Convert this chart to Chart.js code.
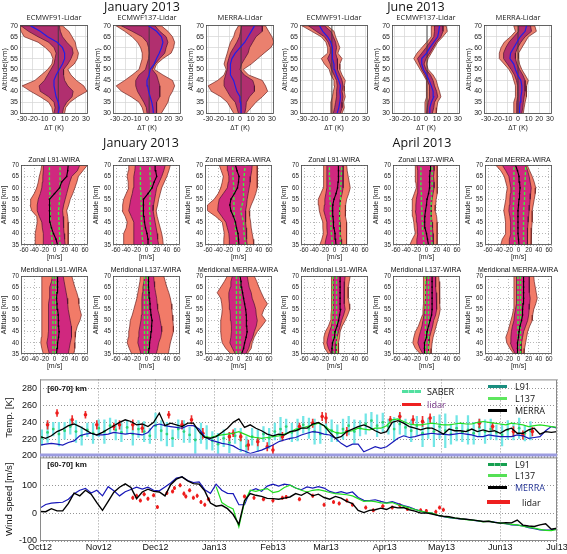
<!DOCTYPE html>
<html>
<head>
<meta charset="utf-8">
<script src="https://cdn.jsdelivr.net/npm/chart.js@4.4.1/dist/chart.umd.min.js"></script>
<style>
  html, body { margin: 0; padding: 0; background: #fff; width: 567px; height: 554px; overflow: hidden; position: relative; font-family: "Liberation Sans", Arial, sans-serif; }
  canvas { position: absolute; }
  .t { position: absolute; white-space: nowrap; transform: translate(-50%, -50%); color: #111; line-height: 1; }
  .l { position: absolute; white-space: nowrap; transform: translate(0, -50%); color: #111; line-height: 1; font-family: "Open Sans", sans-serif; font-size: 9px; }
</style>
</head>
<body>
<script>
// ---------- temperature difference profiles (top row), K ----------
const T_ALT = [30, 32.5, 35, 37.5, 40, 42.5, 45, 47.5, 50, 52.5, 55, 57.5, 60, 62.5, 65, 67.5, 70];
const T_TITLES = ['ECMWF91-Lidar', 'ECMWF137-Lidar', 'MERRA-Lidar', 'ECMWF91-Lidar', 'ECMWF137-Lidar', 'MERRA-Lidar'];
const T_XTICKS = [-30, -20, -10, 0, 10, 20, 30];
const T_YTICKS = [30, 35, 40, 45, 50, 55, 60, 65, 70];
const T_OUT_L = [
  [-1, -2, -5, -13, -22, -30, -18, -12, -6, -2, -1, -3, -8, -15, -28, -31, -33],
  [-3, -4.5, -7.5, -15, -24, -29, -21, -14, -7.5, -6, -4.5, -4.5, -6, -9, -14, -21, -29],
  [-6, -9, -12, -18, -27, -30, -21, -15, -13, -15, -13.6, -12, -10.6, -9, -6, -4.5, -1.5],
  [-3, -3, -3, -1.5, -0.6, 0.6, 0, -3, -4.5, -9, -12, -6, -6, -7.6, -12, -21, -30],
  [-1, -1, -1, 0.6, 0.6, 0.6, 0, -2.4, -5.5, -8.5, -11.5, -8.5, -4, 0.6, 5, 5, 5],
  [-4, -4, -4, -2.4, -2.4, -2.4, -4, -5.5, -8.5, -13, -17.6, -17.6, -16, -13, -7, -2.4, -4]
];
const T_IN_L = [
  [0, 1, 0, -5, -13, -14, -9, -6, -3, 0, 1, 2, 0, -5, -15, -24, -31],
  [0, -0.6, -3, -6, -9, -10.6, -10.6, -7.5, -1.5, 0, 1.5, 2, 1.5, 0, -4.5, -14, -24],
  [-1.5, -3, -4.5, -9, -12, -15, -15, -13.6, -12, -12, -10.6, -9, -6, -3, -0.6, 0.6, 1.5],
  [-0.6, 0.6, 1.5, 2.4, 2.4, 3, 2.4, 0, -2.4, -3.6, -6, -3.6, -3.6, -5.5, -9, -16.7, -24],
  [0.6, 1.2, 2, 3.6, 3.6, 3, 1.2, -1, -4, -6, -8, -4, 0, 3.6, 7.3, 8, 8],
  [-1.5, -1.5, -1, -0.3, -0.3, -0.3, -1.5, -3.3, -6.4, -10, -13.6, -13.6, -11.5, -8.5, -4, 0.6, 0.6]
];
const T_MEAN = [
  [4, 5, 4, 2, 1, 0, 0, 2, 5, 8, 10, 10, 8, 3, -6, -13, -22],
  [6, 5.5, 4.5, 3, 1.5, 0.6, 0, 2, 3, 6.7, 9, 11.5, 13.6, 15, 13.6, 9, 1.5],
  [1.5, 1, 0.6, 0, -3, -4.5, -6, -9, -9, -9, -7.6, -4.5, 0, 4.5, 7.6, 10.6, 13.6],
  [3, 4.5, 5.5, 6, 5.5, 6, 4.5, 2.4, 0.6, 0, -1.5, -1.5, -1.5, -3, -6, -10.6, -13.6],
  [3, 3.6, 5, 7.3, 6.7, 5, 3, 0.6, -2.4, -4, -4, 0.6, 3.6, 7.3, 11, 12, 12.7],
  [1.5, 1.5, 2, 2.7, 3.6, 3.6, 2.7, -0.3, -2.4, -4, -7.6, -7, -4, -1, 2, 6.7, 8]
];
const T_IN_R = [
  [8, 9, 12, 17, 18, 13, 10, 9, 9, 13, 16, 18, 17, 12, 8, 6, 5],
  [9, 9, 9, 12, 12, 12, 10.6, 9, 5, 7.5, 12, 16.7, 18, 19.7, 18, 12, 7.5],
  [4.5, 5.5, 6, 9, 13.6, 13.6, 12, 4, 0, 1.5, 4.5, 7.6, 9, 12, 15, 21, 21],
  [6, 7.6, 7.6, 8.5, 7.6, 8.5, 7.6, 5.5, 3.6, 3, 3, 1.5, 2.4, 1.5, -0.6, -3, -9],
  [6, 7.3, 8, 11, 10, 8, 6.7, 4.2, 0, -1.8, 0, 3.6, 6.7, 9.7, 14, 16, 16],
  [3.6, 4.5, 5, 5.8, 6.7, 6.7, 6.7, 4.5, 1.5, -1, -2.4, -2.4, -0.3, 2.7, 6.7, 12.7, 11.8]
];
const T_OUT_R = [
  [10, 11, 15, 22, 31, 28, 21, 16, 13, 19, 22, 23, 21, 20, 17, 14, 8],
  [13.6, 16.7, 19.7, 21, 24, 26, 24, 15, 7, 9, 15, 22.7, 25, 26, 24, 19.7, 13.6],
  [6, 10.6, 15, 21, 26, 24, 21, 8, 3, 10.6, 16.7, 22.7, 29, 32, 30, 27, 24],
  [7.6, 9.7, 9, 10.6, 9.7, 9.7, 10.6, 7.6, 5.5, 5.5, 7.6, 3.6, 5.5, 3.6, 1.5, 0, -6],
  [9.7, 10.3, 11, 14, 12.7, 11, 9.7, 6.7, 2, 0.6, 2, 5, 8, 11, 15.8, 20, 19],
  [5, 5.8, 6.7, 7.6, 8.2, 8.2, 9.7, 6.7, 3.6, 1.5, 0.6, 0.6, 3.6, 6.7, 9.7, 17.3, 15.8]
];
const T_REF = [4, 2, 1, -2, 1, 0];

// ---------- wind profiles (zonal row then meridional row), m/s ----------
const W_ALT = [35, 37.5, 40, 42.5, 45, 47.5, 50, 52.5, 55, 57.5, 60, 62.5, 65, 67.5, 70];
const W_TITLES = ['Zonal L91-WIRA', 'Zonal L137-WIRA', 'Zonal MERRA-WIRA', 'Zonal L91-WIRA', 'Zonal L137-WIRA', 'Zonal MERRA-WIRA',
  'Meridional L91-WIRA', 'Meridional L137-WIRA', 'Meridional MERRA-WIRA', 'Meridional L91-WIRA', 'Meridional L137-WIRA', 'Meridional MERRA-WIRA'];
const W_XTICKS = [-60, -40, -20, 0, 20, 40, 60];
const W_YTICKS = [35, 40, 45, 50, 55, 60, 65, 70];
const W_OUT_L = [
  [-38, -38, -38, -36, -34, -35, -45, -48, -47, -40, -35, -32, -30, -27, -25],
  [-46, -45, -45, -40, -38, -42, -48, -47, -45, -40, -35, -36, -38, -36, -35],
  [-29, -29, -28, -30, -32, -45, -61, -61, -48, -40, -35, -32, -30, -34, -38],
  [-29, -25, -22, -23, -23, -27, -30, -31, -32, -27, -22, -21, -21, -22, -22],
  [-33, -28, -22, -24, -25, -27, -28, -28, -28, -24, -20, -21, -22, -22, -22],
  [-35, -32, -25, -26, -25, -27, -29, -27, -25, -24, -22, -25, -28, -35, -45],
  [-22, -25, -27, -26, -25, -25, -25, -25, -25, -25, -25, -25, -25, -25, -25],
  [-29, -34, -38, -36, -35, -33, -32, -28, -25, -22, -19, -17, -15, -13, -12],
  [-15, -25, -32, -34, -35, -35, -35, -33, -32, -33, -35, -42, -35, -28, -22],
  [-12, -19, -22, -21, -18, -12, -8, -7, -6, -6, -6, -6, -6, -6, -6],
  [-12, -22, -27, -25, -22, -16, -12, -8, -7, -6, -6, -6, -6, -6, -6],
  [-9, -17, -23, -25, -21, -18, -15, -12, -10, -9, -9, -9, -9, -9, -9]
];
const W_IN_L = [
  [-22, -22, -22, -24, -25, -30, -34, -34, -32, -28, -25, -24, -23, -22, -22],
  [-25, -25, -25, -25, -25, -30, -35, -33, -31, -28, -26, -25, -25, -23, -22],
  [-17, -18, -19, -22, -25, -33, -41, -40, -38, -30, -22, -20, -19, -21, -22],
  [-19, -17, -14, -15, -15, -18, -21, -20, -19, -17, -15, -15, -15, -15, -15],
  [-20, -19, -17, -18, -19, -20, -22, -21, -20, -18, -17, -17, -17, -18, -19],
  [-17, -18, -15, -16, -15, -17, -19, -18, -17, -16, -15, -17, -19, -25, -32],
  [-10, -13, -15, -13, -12, -12, -12, -12, -12, -11, -10, -10, -9, -6, -4],
  [-11, -14, -17, -16, -15, -13, -11, -10, -9, -9, -9, -8, -7, -5, -4],
  [-6, -12, -17, -15, -14, -14, -15, -16, -17, -18, -19, -19, -16, -15, -12],
  [-6, -12, -15, -13, -10, -6, -4, -3, -2, -2, -1, -2, -2, -2, -2],
  [-7, -13, -17, -15, -12, -9, -7, -5, -4, -3, -2, -2, -2, 0, 0],
  [-6, -12, -16, -15, -14, -12, -9, -8, -6, -4, -4, -4, -4, -4, -4]
];
const W_MEAN = [
  [6, 3, -2, -6, -9, -9, -10, -10, -10, 0, 10, 14, 24, 26, 27],
  [4, 3, 1, -2, -4, -5, -6, -6, -6, 3, 11, 15, 20, 18, 17],
  [1, 0, -1, -4, -6, -10, -15, -17, -15, -8, -2, 0, 1, -3, -6],
  [3, 2, 1, -1, -2, -3, -4, -3, -1, 3, 6, 7, 8, 8, 7],
  [4, 2, 0, -3, -4, -3, -2, 0, 1, 4, 6, 6, 6, 7, 8],
  [1, 0, -1, -1, -1, -1, -1, 0, 1, 2, 3, 2, 1, -2, -6],
  [4, 5, 6, 8, 9, 8, 8, 7, 6, 5, 4, 5, 6, 6, 6],
  [4, 5, 6, 8, 9, 10, 11, 9, 8, 7, 6, 5, 4, 4, 4],
  [6, 10, 12, 15, 17, 16, 16, 15, 14, 12, 10, 8, 6, 5, 3],
  [-5, -5, -4, 0, 1, 5, 8, 10, 12, 11, 11, 11, 11, 11, 11],
  [-4, -4, -4, 0, 1, 4, 7, 10, 11, 11, 11, 11, 11, 11, 11],
  [-2, -2, -2, 0, 1, 3, 6, 8, 8, 9, 10, 10, 10, 10, 10]
];
const W_IN_R = [
  [21, 20, 19, 18, 18, 17, 16, 18, 21, 24, 27, 30, 34, 45, 50],
  [24, 22, 21, 19, 17, 15, 13, 14, 16, 18, 20, 25, 30, 34, 37],
  [17, 16, 16, 15, 14, 14, 14, 16, 17, 19, 21, 23, 24, 26, 27],
  [14, 13, 12, 11, 11, 10, 10, 11, 12, 15, 17, 17, 17, 17, 17],
  [14, 13, 13, 12, 11, 10, 9, 10, 11, 13, 15, 15, 14, 15, 15],
  [18, 18, 17, 18, 19, 20, 21, 22, 23, 24, 25, 23, 21, 18, 14],
  [27, 29, 31, 33, 34, 33, 31, 29, 27, 26, 25, 23, 21, 19, 17],
  [19, 22, 24, 28, 30, 29, 27, 25, 22, 21, 20, 18, 16, 15, 14],
  [14, 20, 23, 28, 31, 35, 37, 35, 34, 31, 27, 25, 21, 19, 17],
  [3, 3, 3, 5, 8, 11, 14, 18, 21, 20, 19, 19, 19, 20, 21],
  [4, 4, 5, 6, 9, 12, 14, 18, 20, 20, 20, 19, 18, 18, 18],
  [5, 5, 6, 8, 10, 14, 18, 20, 21, 22, 23, 22, 21, 21, 21]
];
const W_OUT_R = [
  [27, 27, 27, 27, 27, 26, 24, 28, 31, 36, 40, 44, 47, 56, 65],
  [33, 32, 30, 27, 24, 21, 19, 22, 24, 27, 30, 35, 40, 44, 47],
  [30, 29, 27, 25, 24, 22, 21, 25, 30, 34, 37, 37, 37, 37, 37],
  [23, 24, 24, 24, 24, 22, 21, 22, 24, 28, 31, 29, 27, 25, 24],
  [21, 21, 21, 21, 21, 20, 17, 18, 19, 21, 22, 21, 21, 21, 21],
  [25, 25, 25, 26, 27, 27, 27, 29, 31, 33, 34, 31, 27, 22, 17],
  [38, 40, 40, 41, 42, 45, 50, 53, 50, 48, 47, 44, 40, 37, 34],
  [43, 45, 47, 50, 53, 53, 52, 51, 50, 49, 47, 44, 40, 37, 34],
  [17, 25, 27, 31, 37, 46, 54, 46, 50, 57, 50, 45, 40, 36, 31],
  [8, 8, 8, 10, 11, 15, 21, 26, 30, 29, 27, 27, 27, 29, 31],
  [9, 10, 11, 13, 16, 19, 22, 25, 27, 26, 26, 26, 26, 25, 24],
  [11, 12, 14, 16, 18, 22, 27, 28, 30, 34, 37, 35, 33, 31, 30]
];
const W_GREEN_L = [
  [-4, -5, -6, -7, -8, -8, -8, -9, -9, -9, -9, -10, -10, -10, -10],
  [-7, -8, -9, -9, -10, -10, -10, -10, -11, -11, -12, -12, -12, -12, -12],
  [-4, -4, -5, -6, -7, -8, -9, -9, -9, -9, -9, -10, -11, -11, -12],
  [-4, -5, -6, -7, -7, -8, -8, -8, -9, -9, -9, -9, -10, -10, -10],
  [-5, -6, -7, -8, -8, -9, -9, -10, -10, -10, -11, -11, -11, -11, -11],
  [-7, -8, -9, -9, -9, -10, -10, -10, -9, -9, -9, -9, -9, -9, -9],
  [-3, -3, -3, -3, -3, -3, -3, -3, -3, -3, -3, -3, -3, -3, -3],
  [-4, -4, -4, -4, -4, -4, -4, -4, -4, -4, -4, -4, -4, -4, -4],
  [-4, -4, -4, -4, -4, -4, -4, -4, -4, -4, -4, -4, -4, -4, -4],
  [-3, -3, -3, -3, -3, -3, -3, -3, -3, -3, -3, -3, -3, -3, -3],
  [-2, -2, -2, -2, -2, -2, -2, -2, -2, -2, -2, -2, -2, -2, -2],
  [-1, -1, -1, -1, -1, -1, -1, -1, -1, -1, -1, -1, -1, -1, -1]
];
const W_GREEN_R = [
  [11, 10, 10, 9, 9, 8, 8, 9, 10, 11, 11, 11, 11, 11, 11],
  [9, 9, 8, 8, 7, 7, 6, 6, 7, 7, 8, 8, 7, 7, 6],
  [14, 12, 11, 10, 10, 7, 4, 7, 10, 10, 10, 10, 11, 12, 14],
  [12, 11, 11, 10, 10, 10, 10, 11, 12, 12, 12, 13, 13, 14, 14],
  [11, 10, 9, 9, 9, 9, 9, 9, 10, 10, 11, 11, 11, 11, 11],
  [11, 10, 10, 10, 10, 10, 10, 11, 12, 12, 12, 13, 13, 14, 14],
  [2, 2, 2, 2, 2, 2, 2, 2, 2, 2, 2, 2, 2, 2, 2],
  [2, 2, 2, 2, 2, 2, 2, 2, 2, 2, 2, 2, 2, 2, 2],
  [3, 3, 3, 3, 3, 3, 3, 3, 3, 3, 3, 3, 3, 3, 3],
  [4, 4, 4, 4, 4, 4, 4, 4, 4, 4, 4, 4, 4, 4, 4],
  [4, 4, 4, 4, 4, 4, 4, 4, 4, 4, 4, 4, 4, 4, 4],
  [4, 4, 4, 4, 4, 4, 4, 4, 4, 4, 4, 4, 4, 4, 4]
];

// ---------- time series [60-70] km, days since 1 Oct 2012 ----------
const MONTH_DAYS = [0, 31, 61, 92, 123, 151, 182, 212, 243, 273];
const MONTH_LABELS = ['Oct12', 'Nov12', 'Dec12', 'Jan13', 'Feb13', 'Mar13', 'Apr13', 'May13', 'Jun13', 'Jul13'];
const TS_DAYS = [0, 3, 6, 9, 12, 15, 18, 21, 24, 27, 30, 33, 36, 39, 42, 45, 48, 51, 54, 57, 60, 63, 66, 69, 72, 75, 78, 81, 84, 87,
  90, 93, 96, 99, 102, 105, 108, 111, 114, 117, 120, 123, 126, 129, 132, 135, 138, 141, 144, 147, 150, 153, 156, 159, 162, 165, 168, 171, 174, 177,
  180, 183, 186, 189, 192, 195, 198, 201, 204, 207, 210, 213, 216, 219, 222, 225, 228, 231, 234, 237, 240, 243, 246, 249, 252, 255, 258, 261, 264, 267,
  270, 273];
const TEMP_L91 = [213, 214, 215, 214, 213, 216, 218, 224, 226, 227, 225, 225, 226, 228, 227, 226, 227, 226, 225, 228,
  236, 238, 236, 235, 234, 233, 236, 236, 232, 223, 219, 217, 215, 214, 212, 208, 206, 203, 205, 207,
  210, 213, 217, 219, 221, 222, 225, 227, 229, 228, 226, 225, 221, 215, 211, 214, 214, 205, 208, 211,
  209, 211, 216, 221, 224, 222, 223, 225, 226, 227, 226, 226, 225, 226, 227, 226, 225, 223, 223, 225,
  224, 223, 223, 223, 225, 224, 221, 222, 223, 230, 235, 233];
const TEMP_L137 = [null, null, null, null, null, null, null, null, null, null, null, null, null, null, null, null, null, null, null, null,
  null, null, null, null, null, null, null, null, null, 223, 222, 224, 225, 226, 227, 229, 226, 223, 222, 221,
  222, 223, 224, 226, 228, 232, 233, 235, 237, 239, 236, 231, 228, 227, 229, 230, 233, 232, 231, 233,
  233, 236, 243, 244, 241, 238, 237, 237, 238, 239, 238, 237, 237, 238, 239, 238, 238, 240, 241, 240,
  239, 238, 237, 239, 238, 237, 235, 236, 237, 236, 235, 234];
const TEMP_MERRA = [223, 221, 224, 229, 232, 236, 238, 235, 231, 227, 225, 228, 232, 236, 240, 243, 241, 237, 238, 235,
  240, 251, 236, 239, 237, 235, 239, 239, 229, 222, 221, 223, 228, 233, 240, 244, 234, 237, 233, 230,
  226, 224, 226, 225, 229, 230, 233, 233, 238, 240, 236, 228, 221, 223, 229, 232, 235, 237, 234, 230,
  227, 229, 240, 242, 239, 235, 233, 231, 233, 233, 230, 226, 232, 230, 230, 229, 232, 229, 231, 229,
  230, 227, 231, 233, 227, 227, 231, 233, 226, 229, 228, 229];
const WIND_L91 = [18, 31, 36, 38, 39, 50, 70, 82, 89, 72, 82, 62, 95, 80, 62, 77, 85, 93, 86, 93,
  82, 80, 94, 108, 126, 130, 117, 110, 112, 84, 71, 104, 82, 71, 70, 30, 30, 80, 88, 78,
  97, 104, 97, 104, 101, 90, 84, 94, 90, 95, 90, 78, 72, 77, 71, 76, 56, 46, 45, 48,
  42, 37, 41, 34, 27, 22, 14, 7, 2, 0, -8, -13, -16, -19, -21, -22, -25, -28, -30, -30,
  -32, -36, -38, -42, -43, -46, -52, -56, -60, -61, -60, -55];
const WIND_L137 = [null, null, null, null, null, null, null, null, null, null, null, null, null, null, null, null, null, null, null, null,
  null, null, null, null, null, null, null, null, null, null, null, 95, 38, 25, 15, -50, 40, 82, 78, 84,
  88, 74, 78, 92, 100, 90, 82, 76, 82, 84, 80, 74, 70, 68, 66, 62, 52, 42, 44, 41,
  37, 36, 38, 30, 25, 19, 13, 7, 3, 0, -7, -12, -15, -18, -20, -23, -25, -27, -31, -29,
  -33, -35, -38, -40, -42, -47, -50, -54, -58, -62, -63, -58];
const WIND_MERRA = [6, 5, 16, 8, 8, 35, 72, 62, 82, 68, 38, 10, 42, 75, 93, 105, 92, 52, 76, 86,
  78, 76, 62, 102, 122, 130, 116, 106, 104, 80, 36, 25, 28, 16, -5, -40, 45, 70, 64, 60,
  53, 52, 50, 54, 58, 70, 64, 75, 62, 68, 56, 50, 60, 54, 42, 34, 10, 2, 10, 12,
  18, 13, 23, 19, 20, 12, 7, 0, 1, -3, -8, -11, -13, -17, -20, -22, -24, -27, -30, -29,
  -33, -36, -34, -35, -25, -43, -46, -48, -42, -38, -58, -54];
const SABER_DAYS = [1, 4, 7, 10, 13, 16, 19, 22, 25, 28, 31, 34, 37, 40, 43, 46, 49, 52, 55, 58, 61, 64, 67, 70, 73, 76, 79, 82, 85, 88,
  91, 94, 97, 100, 103, 106, 109, 112, 115, 118, 121, 124, 127, 130, 133, 136, 139, 142, 145, 148, 151, 154, 157, 160, 163, 166, 169, 172, 175, 178,
  181, 184, 187, 190, 193, 196, 199, 202, 205, 208, 211, 214, 217, 220, 223, 226, 229, 232, 235, 238, 241, 244, 247, 250, 253, 256, 259];
const SABER_TEMP = [222, 228, 232, 226, 230, 235, 229, 224, 231, 227, 233, 229, 236, 231, 228, 234, 226, 232, 229, 224,
  236, 230, 226, 221, 232, 229, 225, 219, 227, 222, 218, 214, 221, 216, 224, 219, 212, 223, 218, 226,
  221, 229, 232, 235, 228, 231, 237, 233, 229, 226, 234, 230, 227, 232, 236, 229, 233, 238, 242, 236,
  240, 235, 232, 238, 234, 230, 236, 227, 233, 229, 235, 230, 226, 233, 228, 231, 227, 234, 229, 232,
  228, 225, 231, 229, 233, 227, 230];
const SABER_ERR = [9, 12, 8, 14, 10, 9, 13, 11, 8, 12, 10, 14, 9, 12, 11, 8, 13, 10, 12, 9,
  15, 12, 14, 10, 11, 13, 9, 16, 12, 14, 11, 13, 10, 12, 9, 14, 11, 10, 13, 9,
  12, 10, 14, 9, 11, 13, 10, 12, 15, 11, 9, 13, 10, 12, 11, 14, 9, 12, 10, 13,
  11, 9, 14, 12, 10, 13, 11, 16, 12, 18, 14, 20, 12, 15, 11, 17, 13, 10, 14, 12,
  9, 13, 11, 10, 12, 9, 11];
const LIDAR_T_DAYS = [4, 9, 17, 24, 30, 39, 42, 49, 54, 68, 75, 80, 86, 100, 102, 106, 110, 115, 120, 123,
  128, 137, 144, 149, 151, 162, 185, 190, 197, 202, 206, 232, 239, 250, 255, 260];
const LIDAR_T_VALS = [237, 251, 243, 249, 237, 235, 237, 237, 233, 249, 237, 243, 227, 223, 227, 223, 213, 217, 211, 207,
  223, 235, 239, 247, 245, 229, 243, 247, 243, 241, 245, 239, 235, 229, 225, 229];
const LIDAR_T_ERR = [5, 4, 5, 4, 5, 4, 5, 6, 5, 4, 5, 5, 6, 5, 4, 5, 6, 5, 5, 6,
  5, 4, 5, 5, 6, 5, 4, 5, 5, 6, 5, 5, 4, 6, 5, 5];
const LIDAR_W_DAYS = [49, 51, 53, 55, 57, 60, 62, 67, 70, 71, 74, 76, 77, 79, 81, 83, 85, 87, 89, 108,
  113, 118, 123, 128, 130, 137, 144, 150, 155, 158, 162, 165, 172, 176, 181, 186, 190, 194, 201, 204,
  209, 211, 213];
const LIDAR_W_VALS = [55, 62, 45, 68, 52, 64, 22, 72, 78, 90, 100, 70, 60, 82, 55, 62, 40, 30, 50, 60,
  55, 50, 45, 55, 58, 50, 62, 30, 40, 35, 45, 30, 20, 10, 25, 20, 28, 15, 10, 8,
  5, 20, 12];

// ---------- helpers ----------
Chart.defaults.animation = false;
Chart.defaults.responsive = false;
Chart.defaults.devicePixelRatio = 1;
Chart.defaults.events = [];
Chart.defaults.plugins.legend.display = false;
Chart.defaults.plugins.tooltip.enabled = false;
Chart.defaults.elements.point.radius = 0;
Chart.defaults.elements.line.tension = 0;
Chart.defaults.font.family = '"Liberation Sans", Arial, sans-serif';
Chart.defaults.color = '#222';

const SANS = '"Liberation Sans", Arial, sans-serif';
const sf = (size, weight) => ({ family: SANS, size, weight: weight || 'normal' });

const FRAME = {
  id: 'frame',
  afterDatasetsDraw(chart, _args, o) {
    const a = chart.chartArea, c = chart.ctx;
    c.save();
    c.strokeStyle = o.color || '#444';
    c.lineWidth = o.width || 1;
    c.strokeRect(a.left + 0.5, a.top + 0.5, a.right - a.left - 1, a.bottom - a.top - 1);
    if (o.bottomColor) {
      c.strokeStyle = o.bottomColor;
      c.lineWidth = o.bottomWidth;
      c.beginPath();
      c.moveTo(a.left, a.bottom - 1);
      c.lineTo(a.right, a.bottom - 1);
      c.stroke();
    }
    c.restore();
  }
};

function makeCanvas(left, top, w, h) {
  const cv = document.createElement('canvas');
  cv.width = w;
  cv.height = h;
  cv.style.left = left + 'px';
  cv.style.top = top + 'px';
  document.body.appendChild(cv);
  return cv;
}

const fixedTicks = values => s => { s.ticks = values.map(v => ({ value: v })); };
const pts = (xs, ys) => xs.map((v, i) => ({ x: v, y: ys[i] }));
function band(left, right, alt) {
  const p = left.map((v, i) => ({ x: v, y: alt[i] }));
  for (let i = right.length - 1; i >= 0; i--) p.push({ x: right[i], y: alt[i] });
  return p;
}
const line = (data, color, width, extra) => Object.assign({ data, borderColor: color, borderWidth: width, pointRadius: 0, fill: false }, extra || {});
const poly = (data, fillColor, edge) => ({ data, fill: 'shape', backgroundColor: fillColor, borderColor: edge, borderWidth: 0.7, pointRadius: 0 });

function profileChart(box, pad, o, datasets) {
  const cv = makeCanvas(box.x - pad.l, box.y - pad.t, box.w + pad.l + pad.r, box.h + pad.t + pad.b);
  new Chart(cv, {
    type: 'line',
    data: { datasets },
    options: {
      layout: { padding: { top: pad.t, right: pad.r, left: 0, bottom: 0 } },
      scales: {
        x: {
          type: 'linear', min: o.xmin, max: o.xmax, offset: false,
          afterBuildTicks: fixedTicks(o.xticks),
          afterFit: s => { s.height = pad.b; },
          ticks: { autoSkip: false, maxRotation: 0, minRotation: 0, padding: 1, font: o.tickFont, color: '#222' },
          grid: { color: o.gridColor, lineWidth: 0.7, drawTicks: false, offset: false },
          border: { display: false, dash: o.dash },
          title: { display: true, text: o.xTitle, padding: { top: 0, bottom: 0 }, font: o.titleFont, color: '#222' }
        },
        y: {
          type: 'linear', min: o.ymin, max: o.ymax,
          afterBuildTicks: fixedTicks(o.yticks),
          afterFit: s => { s.width = pad.l; },
          ticks: { autoSkip: false, padding: 2, font: o.tickFont, color: '#222' },
          grid: { color: o.gridColor, lineWidth: 0.7, drawTicks: false },
          border: { display: false, dash: o.dash },
          title: { display: true, text: o.yTitle, padding: { top: 0, bottom: 0 }, font: o.titleFont, color: '#222' }
        }
      },
      plugins: { frame: { color: '#444', width: 0.8 } }
    },
    plugins: [FRAME]
  });
}

const labels = [];
function text(str, x, y, css) { labels.push({ str, x, y, css, cls: 't' }); }
function ltext(str, x, y, css) { labels.push({ str, x, y, css, cls: 'l' }); }
const legendLines = [];
function legendLine(x1, x2, y, color, width, style) { legendLines.push({ x1, x2, y, color, width, style }); }

// ---------- top row: temperature differences ----------
const TOP_X = [20, 113, 206, 300, 392, 484];
TOP_X.forEach((bx, p) => {
  const ds = [
    line(pts(T_MEAN[p], T_ALT), '#1f1fe8', 1.2),
    line([{ x: T_REF[p], y: 29 }, { x: T_REF[p], y: 71 }], '#3a3a3a', 0.9),
    poly(band(T_IN_L[p], T_IN_R[p], T_ALT), '#b12f6f', '#4d1232'),
    poly(band(T_OUT_L[p], T_OUT_R[p], T_ALT), '#ea806e', '#6b2323')
  ];
  profileChart({ x: bx, y: 25, w: 68, h: 89 }, { l: 20, r: 10, t: 8, b: 18 }, {
    xmin: -32, xmax: 32, ymin: 29.6, ymax: 70.4, xticks: T_XTICKS, yticks: T_YTICKS,
    tickFont: sf(7), titleFont: { family: '"Open Sans", sans-serif', size: 7.5 },
    xTitle: 'ΔT (K)', yTitle: 'Altitude(km)', gridColor: '#d4d4d4', dash: []
  }, ds);
  text(T_TITLES[p], bx + 34, 18, 'font-family:"Open Sans",sans-serif;font-size:7.5px;color:#222;');
});

// ---------- middle rows: wind profiles ----------
const MID_X = [21, 113, 205, 301, 393, 485];
const MID_ROWS = [{ y: 165, h: 80, titleY: 159 }, { y: 276, h: 78, titleY: 269 }];
MID_ROWS.forEach((row, r) => {
  MID_X.forEach((bx, c) => {
    const p = r * 6 + c;
    const ds = [
      line(pts(W_MEAN[p], W_ALT), '#000', 1.1, { pointRadius: 1, pointStyle: 'rect', pointBackgroundColor: '#000', pointBorderWidth: 0 }),
      line(pts(W_GREEN_L[p], W_ALT), '#3df03d', 1.4, { borderDash: [3, 2] }),
      line(pts(W_GREEN_R[p], W_ALT), '#3df03d', 1.4, { borderDash: [3, 2] }),
      poly(band(W_IN_L[p], W_IN_R[p], W_ALT), '#d0287f', '#4d1232'),
      poly(band(W_OUT_L[p], W_OUT_R[p], W_ALT), '#f27b68', '#6b2323')
    ];
    profileChart({ x: bx, y: row.y, w: 67, h: row.h }, { l: 21, r: 10, t: 8, b: 16 }, {
      xmin: -66, xmax: 66, ymin: 35, ymax: 70, xticks: W_XTICKS, yticks: W_YTICKS,
      tickFont: sf(6.3), titleFont: sf(7),
      xTitle: '[m/s]', yTitle: 'Altitude [km]', gridColor: '#9a9a9a', dash: [1, 2]
    }, ds);
    text(W_TITLES[p], bx + 33, row.titleY, `font-family:${SANS};font-size:7px;color:#111;`);
  });
});

// ---------- bottom: time series ----------
const series = vals => TS_DAYS.map((d, i) => ({ x: d, y: vals[i] })).filter(q => q.y !== null);
const errBars = (days, vals, err) => days.map((d, i) => ({ x: d, y: [vals[i] - err[i], vals[i] + err[i]] }));

function seriesChart(top, boxH, pad, o, datasets) {
  const cv = makeCanvas(0, top - pad.t, 40 + 517 + pad.r, boxH + pad.t + pad.b);
  new Chart(cv, {
    type: 'line',
    data: { datasets },
    options: {
      layout: { padding: { top: pad.t, right: pad.r, left: 0, bottom: 0 } },
      scales: {
        x: {
          type: 'linear', min: 0, max: 273, offset: false,
          afterBuildTicks: fixedTicks(MONTH_DAYS),
          afterFit: s => { s.height = pad.b; },
          ticks: { display: o.showX, autoSkip: false, maxRotation: 0, minRotation: 0, padding: 1, font: sf(9), color: '#111',
            callback: (v, i) => MONTH_LABELS[i] },
          grid: { color: '#7a7a7a', lineWidth: 0.8, drawTicks: false, offset: false },
          border: { display: false, dash: [1, 2] }
        },
        y: {
          type: 'linear', min: o.ymin, max: o.ymax, beginAtZero: false,
          afterBuildTicks: fixedTicks(o.yticks),
          afterFit: s => { s.width = 40; },
          ticks: { autoSkip: false, padding: 3, font: sf(9), color: '#111', callback: o.ylabel || (v => v) },
          grid: { color: '#7a7a7a', lineWidth: 0.8, drawTicks: false },
          border: { display: false, dash: [1, 2] },
          title: { display: true, text: o.title, font: sf(9.5), color: '#111', padding: { top: 4, bottom: 0 } }
        }
      },
      plugins: { frame: Object.assign({ color: '#8a8a8a', width: 1 }, o.frame || {}) }
    },
    plugins: [FRAME]
  });
}

seriesChart(379, 77, { t: 8, b: 9, r: 10 }, {
  ymin: 200, ymax: 291, yticks: [200, 220, 240, 260, 280], title: 'Temp. [K]', showX: false,
  frame: { bottomColor: '#9c9ce0', bottomWidth: 3 }
}, [
  line(series(TEMP_MERRA), '#000', 1.3),
  line(series(TEMP_L137), '#22dd22', 1.2),
  line(series(TEMP_L91), '#1818b8', 1.2),
  line(pts(LIDAR_T_DAYS, LIDAR_T_VALS), '#ee1c1c', 0, { showLine: false, pointRadius: 1.8, pointBackgroundColor: '#ee1c1c', pointBorderWidth: 0 }),
  { type: 'bar', data: errBars(LIDAR_T_DAYS, LIDAR_T_VALS, LIDAR_T_ERR), backgroundColor: '#ee3030', barThickness: 1, grouped: false, borderWidth: 0 },
  line(pts(SABER_DAYS, SABER_TEMP), '#2ed47a', 0, { showLine: false, pointRadius: 1.4, pointBackgroundColor: '#2ed47a', pointBorderWidth: 0 }),
  { type: 'bar', data: errBars(SABER_DAYS, SABER_TEMP, SABER_ERR), backgroundColor: '#72e6e6', barThickness: 1.6, grouped: false, borderWidth: 0 }
]);

seriesChart(457, 84, { t: 8, b: 13, r: 20 }, {
  ymin: -100, ymax: 200, yticks: [-100, 0, 100, 200], title: 'Wind speed [m/s]', showX: true,
  ylabel: v => (v === 200 ? '' : v)
}, [
  line(series(WIND_MERRA), '#000', 1.4),
  line(series(WIND_L137), '#22dd22', 1.2),
  line(series(WIND_L91), '#1818b8', 1.2),
  line(pts(LIDAR_W_DAYS, LIDAR_W_VALS), '#ee1c1c', 0, { showLine: false, pointRadius: 1.6, pointBackgroundColor: '#ee1c1c', pointBorderWidth: 0 }),
  { type: 'bar', data: errBars(LIDAR_W_DAYS, LIDAR_W_VALS, LIDAR_W_DAYS.map(() => 6)), backgroundColor: '#ee3030', barThickness: 1, grouped: false, borderWidth: 0 }
]);

// ---------- headings and legends ----------
text('January 2013', 142, 7, 'font-family:"Open Sans",sans-serif;font-size:12.5px;');
text('June 2013', 416, 7, 'font-family:"Open Sans",sans-serif;font-size:12.5px;');
text('January 2013', 141, 143, 'font-family:"Open Sans",sans-serif;font-size:12.5px;');
text('April 2013', 422, 143, 'font-family:"Open Sans",sans-serif;font-size:12.5px;');
text('[60-70] km', 67, 389, `font-family:${SANS};font-size:8px;font-weight:bold;`);
text('[60-70] km', 67, 465, `font-family:${SANS};font-size:8px;font-weight:bold;`);

legendLine(402, 421, 391, '#52e0a0', 3, 'dashed');
ltext('SABER', 427, 391);
legendLine(402, 421, 404, '#ee2020', 3, 'solid');
ltext('lidar', 427, 404, 'color:#7a3a8a;');
legendLine(488, 507, 386, '#1b8f80', 3, 'solid');
ltext('L91', 515, 386);
legendLine(488, 507, 398, '#5ee65e', 3, 'solid');
ltext('L137', 515, 398);
legendLine(488, 507, 410, '#000', 3, 'solid');
ltext('MERRA', 515, 410);

legendLine(488, 507, 464, '#16a050', 3, 'dashed');
ltext('L91', 515, 464);
legendLine(488, 507, 475, '#55e055', 3, 'solid');
ltext('L137', 515, 475);
legendLine(488, 507, 487, '#000', 3, 'solid');
ltext('MERRA', 515, 487, 'color:#2a3a9a;');
legendLine(487, 510, 502, '#ee2020', 4, 'solid');
ltext('lidar', 522, 502);

legendLines.forEach(l => {
  const d = document.createElement('div');
  d.style.cssText = `position:absolute;left:${l.x1}px;top:${l.y - l.width / 2}px;width:${l.x2 - l.x1}px;height:0;border-top:${l.width}px ${l.style} ${l.color};`;
  document.body.appendChild(d);
});
labels.forEach(l => {
  const d = document.createElement('div');
  d.className = l.cls;
  d.textContent = l.str;
  d.style.left = l.x + 'px';
  d.style.top = l.y + 'px';
  if (l.css) d.style.cssText += l.css;
  document.body.appendChild(d);
});
</script>
</body>
</html>
